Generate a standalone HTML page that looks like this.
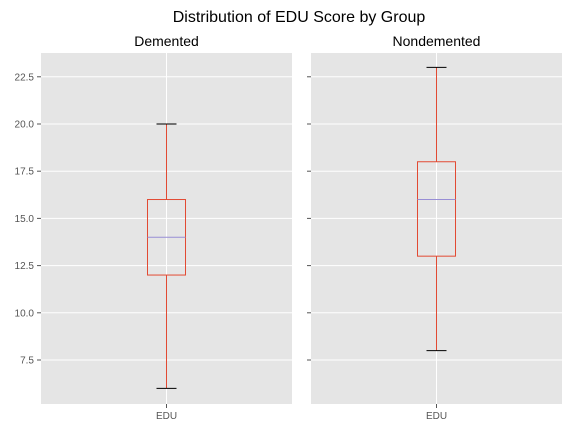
<!DOCTYPE html>
<html><head><meta charset="utf-8"><style>body{margin:0;background:#fff}svg{display:block;font-family:"Liberation Sans","DejaVu Sans",sans-serif}</style></head>
<body>
<svg id="c" width="576" height="432">
<text x="299" y="22" font-size="16" text-anchor="middle" fill="#000">Distribution of EDU Score by Group</text>
</svg>
<script>
const groups = ["Demented", "Nondemented"];
const whiskerLow = [6, 8];
const q1 = [12, 13];
const medians = [14, 16];
const q3 = [16, 18];
const whiskerHigh = [20, 23];
const yTicks = [7.5, 10.0, 12.5, 15.0, 17.5, 20.0, 22.5];
const NS = "http://www.w3.org/2000/svg";
const svgEl = document.getElementById('c');
const plotTop = 53, plotBottom = 404, yMin = 5.17, yMax = 23.76;
const yScale = v => plotBottom - (v - yMin) / (yMax - yMin) * (plotBottom - plotTop);
const panels = [41, 311], pw = 251;
function mk(tag, attrs){const e=document.createElementNS(NS,tag);for(const k in attrs)e.setAttribute(k,attrs[k]);svgEl.appendChild(e);return e;}
groups.forEach((g, i) => {
  const x0 = panels[i], cx = x0 + pw/2;
  const bg = mk('rect',{x:x0,y:plotTop,width:pw,height:plotBottom-plotTop,fill:'#e5e5e5'});
  
  
  yTicks.forEach(t => {
    const gl = mk('line',{x1:x0,x2:x0+pw,y1:yScale(t),y2:yScale(t),stroke:'#fff','stroke-width':1});
    
    
    mk('line',{x1:x0-4,x2:x0,y1:yScale(t),y2:yScale(t),stroke:'#555','stroke-width':1});
    if (i === 0) {
      const tl = mk('text',{x:x0-7,y:yScale(t)+3.5,'font-size':10,'text-anchor':'end',fill:'#555'});
      tl.textContent = t.toFixed(1);
      
      
    }
  });
  mk('line',{x1:cx,x2:cx,y1:plotTop,y2:plotBottom,stroke:'#fff','stroke-width':1});
  mk('line',{x1:cx,x2:cx,y1:plotBottom,y2:plotBottom+4,stroke:'#555','stroke-width':1});
  const xl = mk('text',{x:cx,y:plotBottom+15,'font-size':10,'text-anchor':'middle',fill:'#555'});
  xl.textContent = 'EDU';
  
  
  const tt = mk('text',{x:cx,y:plotTop-7,'font-size':14,'text-anchor':'middle',fill:'#000'});
  tt.textContent = g;
  
  
  const w1 = mk('line',{x1:cx,x2:cx,y1:yScale(whiskerLow[i]),y2:yScale(q1[i]),stroke:'#e24a33'});
  
  
  const w2 = mk('line',{x1:cx,x2:cx,y1:yScale(q3[i]),y2:yScale(whiskerHigh[i]),stroke:'#e24a33'});
  
  
  const b = mk('rect',{x:cx-19,y:yScale(q3[i]),width:38,height:yScale(q1[i])-yScale(q3[i]),fill:'none',stroke:'#e24a33'});
  
  
  const m = mk('line',{x1:cx-19,x2:cx+19,y1:yScale(medians[i]),y2:yScale(medians[i]),stroke:'#988ed5'});
  
  
  [whiskerLow[i], whiskerHigh[i]].forEach(v => {
    const c = mk('line',{x1:cx-10,x2:cx+10,y1:yScale(v),y2:yScale(v),stroke:'#000'});
    
    
  });
});
</script>
</body></html>
